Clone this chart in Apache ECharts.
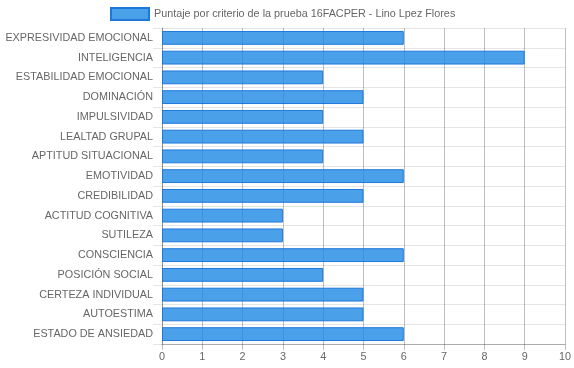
<!DOCTYPE html>
<html><head><meta charset="utf-8">
<script src="https://cdn.jsdelivr.net/npm/echarts@6/dist/echarts.min.js"></script>
<style>html,body{margin:0;padding:0;background:#fff}#c{width:574px;height:368px}</style>
</head><body><div id="c"></div>
<script>
const categories = ["EXPRESIVIDAD EMOCIONAL","INTELIGENCIA","ESTABILIDAD EMOCIONAL","DOMINACIÓN","IMPULSIVIDAD","LEALTAD GRUPAL","APTITUD SITUACIONAL","EMOTIVIDAD","CREDIBILIDAD","ACTITUD COGNITIVA","SUTILEZA","CONSCIENCIA","POSICIÓN SOCIAL","CERTEZA INDIVIDUAL","AUTOESTIMA","ESTADO DE ANSIEDAD"];
const values = [6,9,4,5,4,5,4,6,5,3,3,6,4,5,5,6];
const seriesName = "Puntaje por criterio de la prueba 16FACPER - Lino Lpez Flores";
const chart = echarts.init(document.getElementById('c'));
const font = '"Liberation Sans", Arial, sans-serif';
chart.setOption({
  animation:false,
  legend:{top:7,left:110,padding:0,itemWidth:38,itemHeight:12,itemGap:5,
    textStyle:{fontFamily:font,fontSize:10.8,color:'#666'},
    data:[{name:seriesName,icon:'rect'}]},
  grid:{left:162,right:9,top:28,bottom:24,containLabel:false,outerBoundsMode:'none'},
  xAxis:{type:'value',min:0,max:10,interval:1,
    axisLine:{show:true,lineStyle:{color:'rgba(0,0,0,0.25)'}},
    axisTick:{show:true,length:6,lineStyle:{color:'rgba(0,0,0,0.25)'}},
    axisLabel:{fontFamily:font,fontSize:10.8,color:'#666',margin:8},
    splitLine:{show:true,lineStyle:{color:'rgba(0,0,0,0.25)'}}},
  yAxis:{type:'category',data:categories,inverse:true,
    axisLine:{show:true,lineStyle:{color:'rgba(0,0,0,0.25)'}},
    axisTick:{show:true,length:9,lineStyle:{color:'rgba(0,0,0,0.1)'}},
    axisLabel:{fontFamily:font,fontSize:10.8,color:'#666',margin:9},
    splitLine:{show:true,lineStyle:{color:'rgba(0,0,0,0.1)'}}},
  series:[{name:seriesName,type:'bar',data:values,barCategoryGap:'30%',
    itemStyle:{color:'rgba(30,136,229,0.8)',borderColor:'rgba(30,120,220,1)',borderWidth:1}}]
});
</script></body></html>
